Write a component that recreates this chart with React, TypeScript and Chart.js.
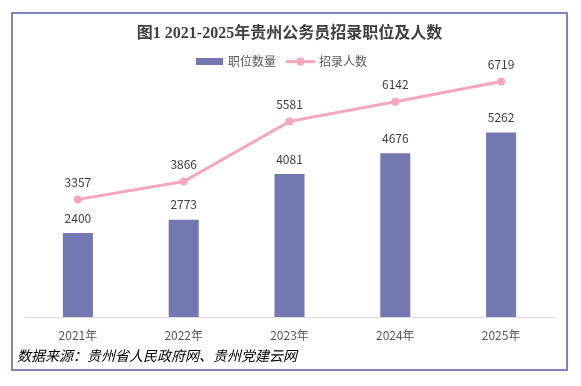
import React, { useEffect, useRef } from "react";
import { Chart, registerables } from "chart.js";

Chart.register(...registerables);

const categories = ["2021年", "2022年", "2023年", "2024年", "2025年"];
const positions = [2400, 2773, 4081, 4676, 5262];
const recruits = [3357, 3866, 5581, 6142, 6719];
const seriesNames = ["职位数量", "招录人数"];
const titleText = "图1 2021-2025年贵州公务员招录职位及人数";
const sourceText = "数据来源：贵州省人民政府网、贵州党建云网";

const BAR = "#7478b0";
const LINE = "#f7a6bd";
const CJK = '"Noto Sans CJK SC", sans-serif';

function makeBarIcon() {
  const c = document.createElement("canvas");
  c.width = 27;
  c.height = 7;
  const g = c.getContext("2d")!;
  g.fillStyle = BAR;
  g.fillRect(0, 0, 27, 7);
  return c;
}

function makeLineIcon() {
  const c = document.createElement("canvas");
  c.width = 29;
  c.height = 9;
  const g = c.getContext("2d")!;
  g.strokeStyle = LINE;
  g.lineWidth = 3;
  g.beginPath();
  g.moveTo(0, 4.5);
  g.lineTo(29, 4.5);
  g.stroke();
  g.fillStyle = LINE;
  g.beginPath();
  g.arc(14.5, 4.5, 4, 0, Math.PI * 2);
  g.fill();
  return c;
}

const valueLabels = {
  id: "valueLabels",
  afterDatasetsDraw(chart: any) {
    const ctx = chart.ctx;
    ctx.save();
    ctx.font = `12px ${CJK}`;
    ctx.fillStyle = "#404040";
    ctx.textAlign = "center";
    ctx.textBaseline = "middle";
    chart.data.datasets.forEach((ds: any, i: number) => {
      const meta = chart.getDatasetMeta(i);
      const off = meta.type === "bar" ? 15 : 17;
      meta.data.forEach((el: any, j: number) => {
        const { x, y } = el.getProps(["x", "y"], true);
        ctx.fillText(String(ds.data[j]), x, y - off);
      });
    });
    ctx.restore();
  },
};

const legendShift = {
  id: "legendShift",
  afterLayout(chart: any) {
    const l = chart.legend;
    if (l) {
      l.left -= 7.5;
      l.right -= 7.5;
    }
  },
};

export default function App() {
  const ref = useRef<HTMLCanvasElement | null>(null);

  useEffect(() => {
    if (!ref.current) return;
    const barIcon = makeBarIcon();
    const lineIcon = makeLineIcon();
    const chart = new Chart(ref.current, {
      type: "bar",
      data: {
        labels: categories,
        datasets: [
          {
            type: "bar",
            label: seriesNames[0],
            data: positions,
            backgroundColor: BAR,
            categoryPercentage: 1,
            barPercentage: 0.284,
            order: 2,
          },
          {
            type: "line",
            label: seriesNames[1],
            data: recruits,
            borderColor: LINE,
            backgroundColor: LINE,
            borderWidth: 3,
            pointRadius: 4,
            pointBackgroundColor: LINE,
            pointBorderColor: LINE,
            pointBorderWidth: 0,
            tension: 0,
            order: 1,
          },
        ],
      } as any,
      options: {
        animation: false,
        responsive: false,
        events: [],
        layout: { padding: { left: 25, right: 27, top: 0, bottom: 32.5 } },
        plugins: {
          tooltip: { enabled: false },
          title: {
            display: true,
            text: titleText,
            color: "#404040",
            font: { size: 16, weight: "bold", family: '"Liberation Serif", "Noto Sans CJK SC", serif' },
            padding: { top: 24.4, bottom: 0 },
          },
          legend: {
            position: "top",
            labels: {
              usePointStyle: true,
              pointStyleWidth: 25,
              boxHeight: 12,
              padding: 12,
              color: "#595959",
              font: { size: 12, family: CJK },
              generateLabels: (c: any) =>
                c.data.datasets.map((ds: any, i: number) => ({
                  text: ds.label,
                  pointStyle: i === 0 ? barIcon : lineIcon,
                  fillStyle: "transparent",
                  strokeStyle: "transparent",
                  lineWidth: 0,
                  hidden: false,
                  datasetIndex: i,
                  fontColor: "#595959",
                })),
            },
          },
        },
        scales: {
          x: {
            grid: { display: true, color: "rgba(0,0,0,0)", drawTicks: false },
            border: { display: true, color: "#d9d9d9", width: 1 },
            ticks: { color: "#595959", font: { size: 12, family: CJK }, padding: 11 },
          },
          y: { display: false, min: 0, max: 6830 },
        },
      } as any,
      plugins: [valueLabels, legendShift],
    });
    return () => chart.destroy();
  }, []);

  return (
    <div style={{ position: "absolute", left: 0, top: 0, width: 581, height: 386, background: "#fff" }}>
      <canvas ref={ref} width={581} height={386} style={{ display: "block", position: "absolute", left: 0, top: 0 }} />
      <div
        style={{
          position: "absolute",
          left: 11,
          top: 12,
          width: 553,
          height: 355,
          border: "2px solid #7f84bf",
          pointerEvents: "none",
        }}
      />
      <div
        style={{
          position: "absolute",
          left: 17,
          top: 345,
          fontFamily: CJK,
          fontStyle: "italic",
          fontSize: 14,
          lineHeight: "20px",
          color: "#000",
          whiteSpace: "nowrap",
        }}
      >
        {sourceText}
      </div>
    </div>
  );
}
